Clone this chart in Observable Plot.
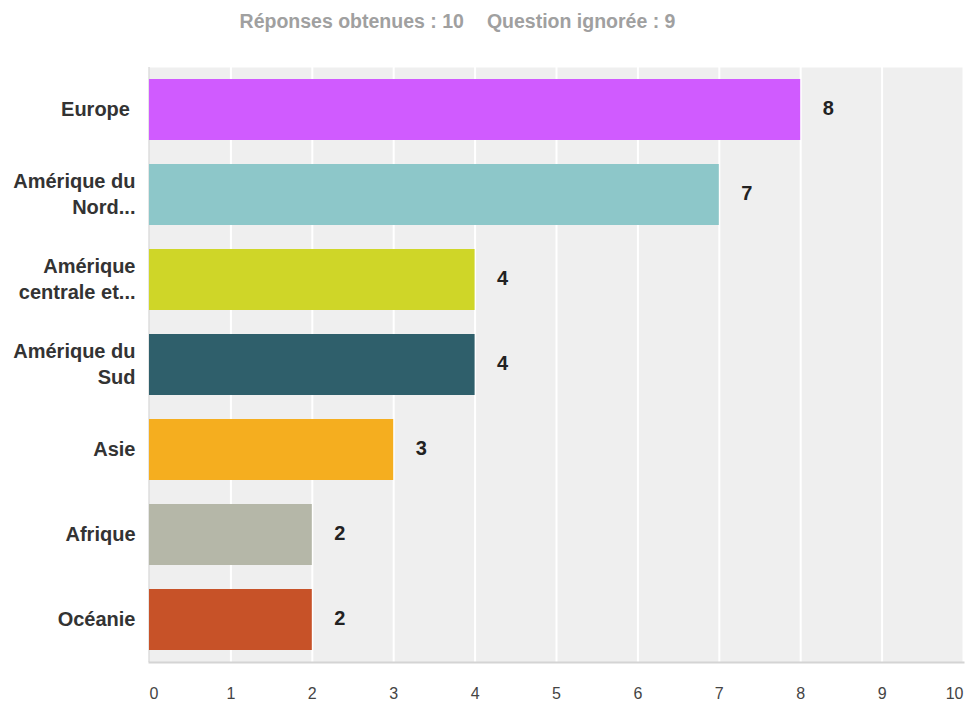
<!DOCTYPE html>
<html>
<head>
<meta charset="utf-8">
<script src="https://cdn.jsdelivr.net/npm/d3@7"></script>
<script src="https://cdn.jsdelivr.net/npm/@observablehq/plot@0.6"></script>
<style>
  body { margin: 0; background: #fff; }
  #title { width: 915px; height: 42px; line-height: 42px; text-align: center;
    font-family: "Liberation Sans", Arial, sans-serif; font-weight: bold; font-size: 19.5px; color: #a0a0a0; white-space: pre; }
  #title span + span { margin-left: 23px; }
</style>
</head>
<body>
<div id="title"></div>
<div id="chart"></div>
<script>
const titleParts = ["Réponses obtenues : 10", "Question ignorée : 9"];
const categories = ["Europe ", "Amérique du\nNord...", "Amérique\ncentrale et...", "Amérique du\nSud", "Asie", "Afrique", "Océanie"];
const values = [8, 7, 4, 4, 3, 2, 2];
const colors = ["#d05bff", "#8dc7c9", "#cfd628", "#2f5f6b", "#f5ae1f", "#b5b7a8", "#c75228"];
const xTicks = [0, 1, 2, 3, 4, 5, 6, 7, 8, 9, 10];

const titleEl = document.getElementById("title");
titleParts.forEach(t => { const s = document.createElement("span"); s.textContent = t; titleEl.appendChild(s); });

const data = categories.map((c, i) => ({category: c, value: values[i], color: colors[i]}));

const chart = Plot.plot({
  width: 966,
  height: 662,
  marginTop: 25,
  marginBottom: 42,
  marginLeft: 149,
  marginRight: 3,
  style: {fontFamily: "'Liberation Sans', Arial, sans-serif", background: "transparent"},
  x: {domain: [0, 10], axis: null},
  y: {domain: categories, paddingInner: 0.28, paddingOuter: 0.14, axis: null},
  marks: [
    Plot.frame({fill: "#efefef"}),
    Plot.gridX(xTicks.slice(1), {stroke: "#ffffff", strokeOpacity: 1, strokeWidth: 2}),
    Plot.ruleX([0], {stroke: "#cccccc", strokeWidth: 1, dx: -0.5}),
    Plot.frame({anchor: "bottom", stroke: "#d4d4d4", strokeWidth: 2}),
    Plot.barX(data, {y: "category", x: "value", fill: "color"}),
    Plot.text(data, {y: "category", x: "value", text: d => String(d.value), dx: 22, dy: -1, textAnchor: "start",
      fontWeight: "bold", fontSize: 20, fill: "#222"}),
    Plot.axisY({tickSize: 0, tickPadding: 14, dy: -2, fontWeight: "bold", fontSize: 20, fill: "#333", lineHeight: 1.3, label: null}),
    Plot.axisX(xTicks.slice(1, -1), {tickSize: 0, tickPadding: 25, fontSize: 16, fill: "#444", label: null}),
    Plot.axisX([xTicks[0]], {tickSize: 0, tickPadding: 25, fontSize: 16, fill: "#444", textAnchor: "start", label: null}),
    Plot.axisX([xTicks[xTicks.length - 1]], {tickSize: 0, tickPadding: 25, fontSize: 16, fill: "#444", textAnchor: "end", label: null})
  ]
});
document.getElementById("chart").appendChild(chart);
</script>
</body>
</html>
